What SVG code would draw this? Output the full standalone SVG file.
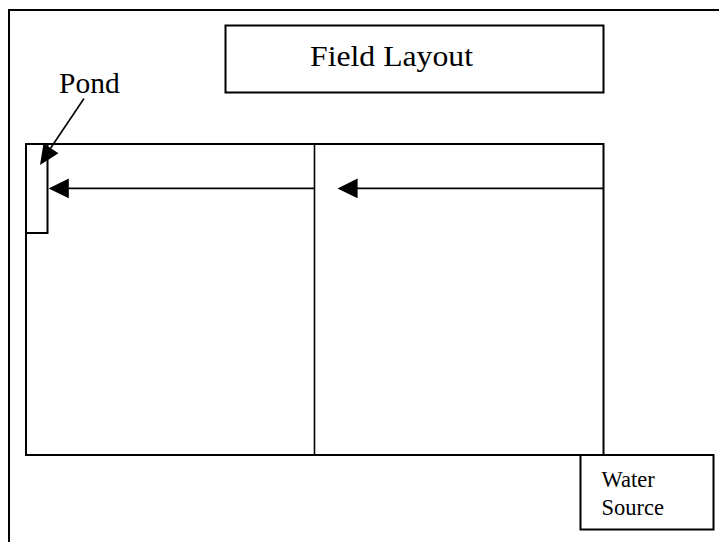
<svg xmlns="http://www.w3.org/2000/svg" width="719" height="542" viewBox="0 0 719 542">
<style>
.box{fill:none;stroke:#000;stroke-width:2}
.ln{fill:none;stroke:#000;stroke-width:1.6}
.hd{fill:#000;stroke:none}
.t{font-family:"Liberation Serif","Times New Roman",serif;fill:#000}
</style>
<rect width="719" height="542" fill="#fff"/>
<g id="frame"><rect class="box" x="9" y="10" width="720" height="545"/></g>
<g id="title">
<rect class="box" x="225.5" y="25.5" width="378" height="67"/>
<text class="t" x="310" y="65.5" font-size="30" textLength="163" lengthAdjust="spacingAndGlyphs">Field Layout</text>
</g>
<g id="field">
<rect class="box" x="26" y="144" width="577.5" height="311"/>
<line class="ln" x1="314.5" y1="144" x2="314.5" y2="455"/>
</g>
<g id="pond">
<rect class="box" x="26" y="144" width="21.5" height="89"/>
<text class="t" x="59" y="92.5" font-size="29.5">Pond</text>
</g>
<g id="water-source">
<rect class="box" x="580.5" y="455" width="133" height="74.5"/>
<text class="t" x="601.5" y="486.7" font-size="22.5">Water</text>
<text class="t" x="601.5" y="515" font-size="22.5">Source</text>
</g>
<g id="connectors">
<line class="ln" x1="84" y1="98.5" x2="48" y2="152"/>
<polygon class="hd" points="40,165 58.5,153.3 43.5,143.4"/>
<line class="ln" x1="314.5" y1="188.4" x2="66" y2="188.4"/>
<polygon class="hd" points="48.6,188.4 68.8,178.5 68.8,198.3"/>
<line class="ln" x1="603.5" y1="188.4" x2="355" y2="188.4"/>
<polygon class="hd" points="337.5,188.4 357.6,178.5 357.6,198.3"/>
</g>
</svg>
